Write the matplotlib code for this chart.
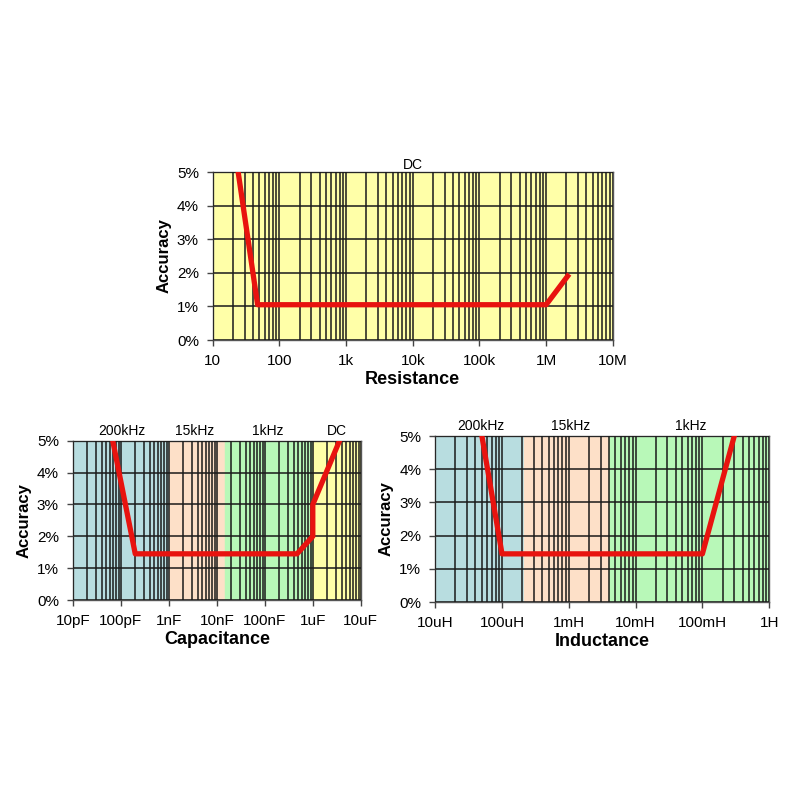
import numpy as np
import matplotlib
matplotlib.use('Agg')
import matplotlib.pyplot as plt
from matplotlib.ticker import LogLocator, FixedLocator, NullFormatter

plt.rcParams['font.family'] = ['Liberation Sans', 'DejaVu Sans']

# 电阻 DC
res_x = [24, 47, 1e6, 2.1e6]
res_y = [5.0, 1.05, 1.05, 1.9]
res_ticks = [10, 100, 1e3, 1e4, 1e5, 1e6, 1e7]
res_labels = ['10', '100', '1k', '10k', '100k', '1M', '10M']

# 电容
cap_x = [68e-12, 200e-12, 470e-9, 1e-6, 1e-6, 3.6e-6]
cap_y = [5.0, 1.45, 1.45, 2.0, 3.0, 5.0]
cap_ticks = [1e-11, 1e-10, 1e-9, 1e-8, 1e-7, 1e-6, 1e-5]
cap_labels = ['10pF', '100pF', '1nF', '10nF', '100nF', '1uF', '10uF']
cap_bands = [(1e-11, 1e-9), (1e-9, 1.5e-8), (1.5e-8, 1e-6), (1e-6, 1e-5)]
cap_band_names = ['200kHz', '15kHz', '1kHz', 'DC']
cap_band_label_x = [1.05e-10, 3.5e-9, 1.15e-7, 3.2e-6]

# 电感
ind_x = [50e-6, 100e-6, 100e-3, 300e-3]
ind_y = [5.0, 1.45, 1.45, 5.0]
ind_ticks = [1e-5, 1e-4, 1e-3, 1e-2, 1e-1, 1]
ind_labels = ['10uH', '100uH', '1mH', '10mH', '100mH', '1H']
ind_bands = [(1e-5, 2.1e-4), (2.1e-4, 4e-3), (4e-3, 1)]
ind_band_names = ['200kHz', '15kHz', '1kHz']
ind_band_label_x = [4.8e-5, 1.05e-3, 6.8e-2]

band_colors = ['#b8dde0', '#fde0c8', '#b8f8b8', '#ffffa8']
yticks = [0, 1, 2, 3, 4, 5]
ylabels = ['0%', '1%', '2%', '3%', '4%', '5%']


def setup(ax, ticks, labels, xlabel):
    ax.set_xscale('log')
    ax.set_xlim(ticks[0], ticks[-1])
    ax.set_ylim(0, 5)
    ax.xaxis.set_major_locator(FixedLocator(ticks))
    ax.set_xticklabels(labels, fontsize=11)
    ax.xaxis.set_minor_locator(LogLocator(base=10, subs=np.arange(2, 10), numticks=20))
    ax.xaxis.set_minor_formatter(NullFormatter())
    ax.set_yticks(yticks)
    ax.set_yticklabels(ylabels, fontsize=11)
    ax.grid(True, which='both', axis='x', color='#1a1a1a', linewidth=1.1)
    ax.grid(True, which='major', axis='y', color='#1a1a1a', linewidth=1.1)
    ax.set_axisbelow(False)
    ax.tick_params(axis='x', which='minor', length=0)
    ax.tick_params(axis='both', which='major', length=4, width=1, color='#444444', pad=6)
    for s in ax.spines.values():
        s.set_color('#555555')
        s.set_linewidth(1)
    ax.set_xlabel(xlabel, fontsize=13, fontweight='bold', labelpad=2)
    ax.set_ylabel('Accuracy', fontsize=12, fontweight='bold', labelpad=4)


fig = plt.figure(figsize=(8, 8), dpi=100)

ax1 = fig.add_axes([0.266, 0.575, 0.5, 0.21])
ax1.axvspan(res_ticks[0], res_ticks[-1], color=band_colors[3], zorder=0)
setup(ax1, res_ticks, res_labels, 'Resistance')
ax1.plot(res_x, res_y, color='#e8130f', linewidth=3.8, zorder=5)
ax1.set_title('DC', fontsize=10, pad=2)

ax2 = fig.add_axes([0.091, 0.25, 0.36, 0.199])
for (a, b), c in zip(cap_bands, band_colors):
    ax2.axvspan(a, b, color=c, zorder=0)
setup(ax2, cap_ticks, cap_labels, 'Capacitance')
ax2.plot(cap_x, cap_y, color='#e8130f', linewidth=3.8, zorder=5)
for name, xp in zip(cap_band_names, cap_band_label_x):
    ax2.text(xp, 5.08, name, ha='center', va='bottom', fontsize=10)

ax3 = fig.add_axes([0.544, 0.2475, 0.4175, 0.2075])
for (a, b), c in zip(ind_bands, band_colors):
    ax3.axvspan(a, b, color=c, zorder=0)
setup(ax3, ind_ticks, ind_labels, 'Inductance')
ax3.plot(ind_x, ind_y, color='#e8130f', linewidth=3.8, zorder=5)
for name, xp in zip(ind_band_names, ind_band_label_x):
    ax3.text(xp, 5.08, name, ha='center', va='bottom', fontsize=10)

fig.savefig('out.png', dpi=100)
plt.close()
